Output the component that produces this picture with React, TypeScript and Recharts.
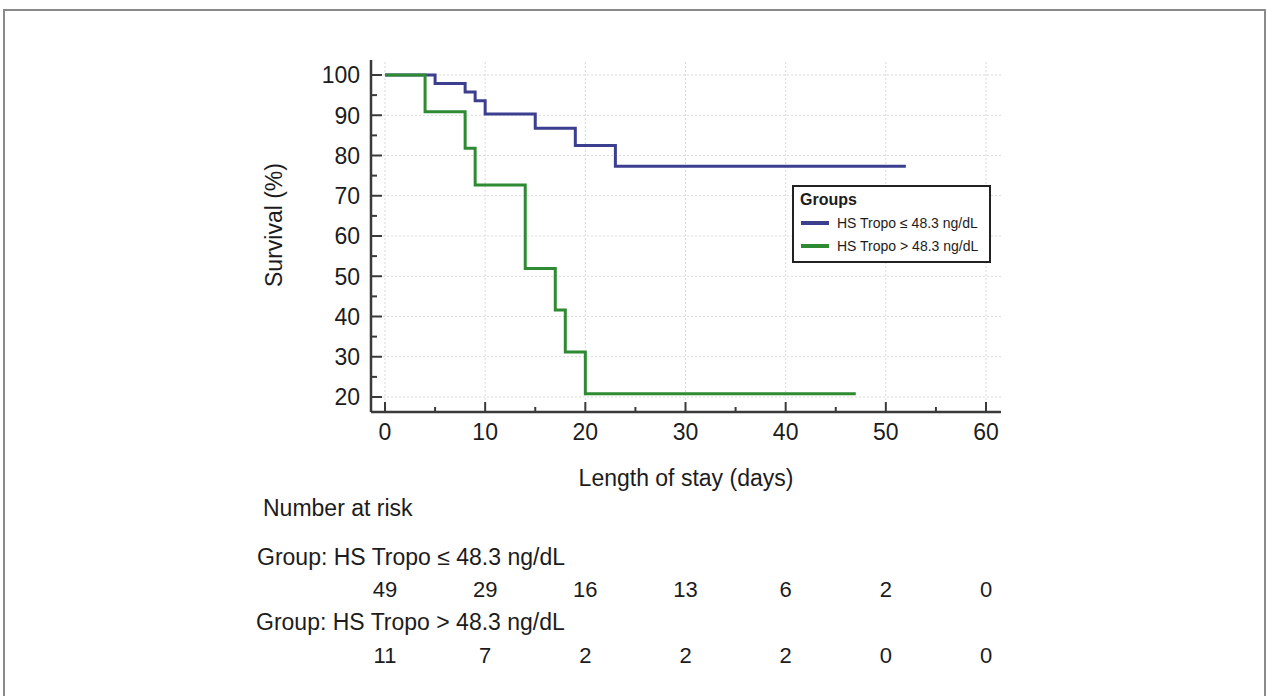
import { ComposedChart, Line, XAxis, YAxis, ReferenceLine, Legend } from 'recharts';

const FONT = '"Liberation Sans", Arial, sans-serif';
const TEXT = '#1c1c1c';
const AXIS = '#3a3a3a';

// Kaplan-Meier step points (day, survival %)
const lowDays = [0, 5, 8, 9, 10, 15, 19, 23, 52];
const lowSurvival = [100, 97.9, 95.8, 93.6, 90.3, 86.8, 82.5, 77.3, 77.3];
const highDays = [0, 4, 8, 9, 14, 17, 18, 20, 47];
const highSurvival = [100, 90.9, 81.8, 72.7, 51.9, 41.6, 31.2, 20.8, 20.8];

const groupNames = ['HS Tropo ≤ 48.3 ng/dL', 'HS Tropo > 48.3 ng/dL'];
const groupColors = ['#3c3f90', '#2e8a33'];

const dayTicks = [0, 5, 10, 15, 20, 25, 30, 35, 40, 45, 50, 55, 60];
const survivalTicks = [20, 25, 30, 35, 40, 45, 50, 55, 60, 65, 70, 75, 80, 85, 90, 95, 100];
const gridDays = [0, 10, 20, 30, 40, 50, 60];
const gridSurvival = [20, 30, 40, 50, 60, 70, 80, 90, 100];

// number at risk, one value per 10-day tick
const riskLow = [49, 29, 16, 13, 6, 2, 0];
const riskHigh = [11, 7, 2, 2, 2, 0, 0];

const lowData = lowDays.map((t, i) => ({ t, s: lowSurvival[i] }));
const highData = highDays.map((t, i) => ({ t, s: highSurvival[i] }));

const txt = { fontFamily: FONT, fill: TEXT };

function XTick(props: any) {
  const { x, y, payload } = props;
  const v = payload.value;
  const major = v % 10 === 0;
  const i = v / 10;
  return (
    <g>
      <line x1={x} x2={x} y1={y} y2={y - (major ? 10 : 5)} stroke={AXIS} strokeWidth={2} />
      {major && (
        <>
          <text x={x} y={y + 28} textAnchor="middle" fontSize={23} {...txt}>{v}</text>
          <text x={x} y={y + 185} textAnchor="middle" fontSize={22} {...txt}>{riskLow[i]}</text>
          <text x={x} y={y + 251} textAnchor="middle" fontSize={22} {...txt}>{riskHigh[i]}</text>
        </>
      )}
    </g>
  );
}

function YTick(props: any) {
  const { x, y, payload } = props;
  const v = payload.value;
  const major = v % 10 === 0;
  return (
    <g>
      <line x1={x} x2={x + (major ? 11 : 6)} y1={y} y2={y} stroke={AXIS} strokeWidth={2} />
      {major && (
        <text x={x - 11} y={y} dy="0.36em" textAnchor="end" fontSize={23} {...txt}>{v}</text>
      )}
    </g>
  );
}

function XTitle(props: any) {
  const { viewBox } = props;
  const { x, y, width } = viewBox;
  return (
    <g>
      <text x={x + width / 2} y={y + 74} textAnchor="middle" fontSize={23} {...txt}>Length of stay (days)</text>
      <text x={x - 108} y={y + 104} fontSize={23} {...txt}>Number at risk</text>
      <text x={x - 114} y={y + 153} fontSize={23} {...txt}>Group: {groupNames[0]}</text>
      <text x={x - 115} y={y + 218} fontSize={23} {...txt}>Group: {groupNames[1]}</text>
    </g>
  );
}

function YTitle(props: any) {
  const { viewBox } = props;
  const cx = viewBox.x - 29;
  const cy = viewBox.y + viewBox.height / 2 - 11;
  return (
    <text x={cx} y={cy} textAnchor="middle" fontSize={23} transform={`rotate(-90, ${cx}, ${cy})`} {...txt}>
      Survival (%)
    </text>
  );
}

function GroupsLegend({ payload }: any) {
  const items = [...(payload || [])].sort(
    (a: any, b: any) => groupNames.indexOf(a.value) - groupNames.indexOf(b.value)
  );
  return (
    <div style={{ position: 'relative', width: 199, height: 78, border: '2px solid #222', boxSizing: 'border-box', background: '#fff', fontFamily: FONT, color: TEXT }}>
      <div style={{ position: 'absolute', left: 6, top: 4, fontSize: 16, fontWeight: 'bold', lineHeight: '18px' }}>Groups</div>
      {items.map((p: any, i: number) => (
        <div key={p.value} style={{ position: 'absolute', left: 7, top: 26 + i * 23, height: 20, display: 'flex', alignItems: 'center' }}>
          <span style={{ display: 'inline-block', width: 28, height: 4, background: p.color, marginRight: 8 }} />
          <span style={{ fontSize: 14 }}>{p.value}</span>
        </div>
      ))}
    </div>
  );
}

export default function App() {
  return (
    <div style={{ position: 'absolute', left: 0, top: 0, width: 1267, height: 696, background: '#fff', overflow: 'hidden' }}>
      <div style={{ position: 'absolute', left: 3, top: 9, width: 1259, height: 760, borderTop: '2px solid #8a8a8a', borderLeft: '2px solid #8a8a8a', borderRight: '2px solid #8a8a8a' }} />
      <ComposedChart width={1267} height={696} margin={{ top: 60, right: 266, bottom: 0, left: 311 }}>
        {gridSurvival.map((v) => (
          <ReferenceLine key={'h' + v} y={v} stroke="#d9d9d9" strokeDasharray="2 2" />
        ))}
        {gridDays.map((d) => (
          <ReferenceLine key={'v' + d} x={d} stroke="#d9d9d9" strokeDasharray="2 2" />
        ))}
        <XAxis
          type="number"
          dataKey="t"
          domain={[0, 60]}
          ticks={dayTicks}
          interval={0}
          padding={{ left: 14, right: 15 }}
          height={284}
          tickSize={0}
          tickMargin={0}
          tickLine={false}
          axisLine={{ stroke: AXIS, strokeWidth: 2.5 }}
          tick={XTick}
          label={<XTitle />}
        />
        <YAxis
          type="number"
          domain={[20, 100]}
          ticks={survivalTicks}
          interval={0}
          padding={{ top: 15, bottom: 15 }}
          width={60}
          tickSize={0}
          tickMargin={0}
          tickLine={false}
          axisLine={{ stroke: AXIS, strokeWidth: 2.5 }}
          tick={YTick}
          label={<YTitle />}
        />
        <Line data={lowData} dataKey="s" name={groupNames[0]} type="stepAfter" stroke={groupColors[0]} strokeWidth={3} dot={false} activeDot={false} isAnimationActive={false} />
        <Line data={highData} dataKey="s" name={groupNames[1]} type="stepAfter" stroke={groupColors[1]} strokeWidth={3} dot={false} activeDot={false} isAnimationActive={false} />
        <Legend
          layout="horizontal"
          verticalAlign="middle"
          align="center"
          content={GroupsLegend}
          wrapperStyle={{ position: 'absolute', left: 792, top: 185, width: 199, height: 78 }}
        />
      </ComposedChart>
    </div>
  );
}
